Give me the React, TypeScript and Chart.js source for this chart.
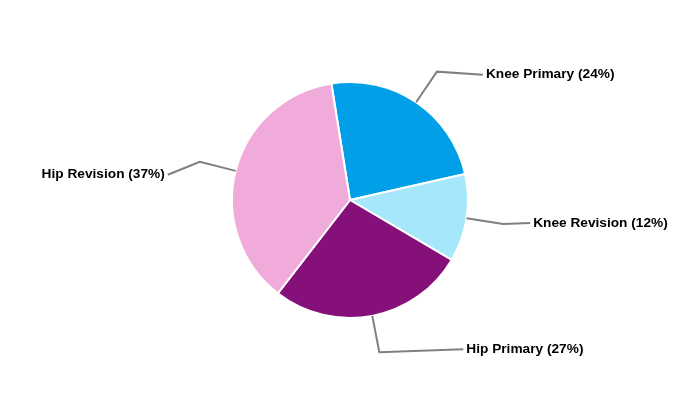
import React, { useEffect, useRef } from "react";
import { Chart, registerables } from "chart.js";

Chart.register(...registerables);

const categories = ["Knee Primary", "Knee Revision", "Hip Primary", "Hip Revision"];
const values = [24, 12, 27, 37];
const colors = ["#009FE8", "#A6E7FC", "#861079", "#F1ABDA"];
// label leader end offsets from the elbow (dx, dy)
const labelDx = [46, 27, 84, -32];
const labelDy = [3, -1, -3, 13];

const leaderPlugin = {
  id: "leaders",
  afterDatasetsDraw(chart: any) {
    const ctx = chart.ctx;
    const meta = chart.getDatasetMeta(0);
    ctx.save();
    meta.data.forEach((arc: any, i: number) => {
      const { x, y, startAngle, endAngle, outerRadius } = arc.getProps(
        ["x", "y", "startAngle", "endAngle", "outerRadius"],
        true
      );
      const mid = (startAngle + endAngle) / 2;
      const c = Math.cos(mid);
      const s = Math.sin(mid);
      const x0 = x + outerRadius * c;
      const y0 = y + outerRadius * s;
      const x1 = x + (outerRadius + 37) * c;
      const y1 = y + (outerRadius + 37) * s;
      const x2 = x1 + labelDx[i];
      const y2 = y1 + labelDy[i];
      ctx.strokeStyle = "#808080";
      ctx.lineWidth = 2;
      ctx.beginPath();
      ctx.moveTo(x0, y0);
      ctx.lineTo(x1, y1);
      ctx.lineTo(x2, y2);
      ctx.stroke();
      const right = labelDx[i] > 0;
      ctx.fillStyle = "#000000";
      ctx.font = "bold 13.7px 'Liberation Sans', Arial, sans-serif";
      ctx.textBaseline = "middle";
      ctx.textAlign = right ? "left" : "right";
      const total = values.reduce((a, b) => a + b, 0);
      const pct = Math.round((values[i] / total) * 100);
      ctx.fillText(`${categories[i]} (${pct}%)`, right ? x2 + 3 : x2 - 3, y2);
    });
    ctx.restore();
  },
};

export default function App() {
  const ref = useRef<HTMLCanvasElement>(null);
  useEffect(() => {
    if (!ref.current) return;
    const chart = new Chart(ref.current, {
      type: "pie",
      data: {
        labels: categories,
        datasets: [
          {
            data: values,
            backgroundColor: colors,
            borderColor: "#ffffff",
            borderWidth: 2,
            radius: 118,
          },
        ],
      },
      options: {
        responsive: true,
        maintainAspectRatio: false,
        animation: false,
        rotation: -9.1,
        plugins: {
          legend: { display: false },
          tooltip: { enabled: false },
        },
      },
      plugins: [leaderPlugin],
    });
    return () => chart.destroy();
  }, []);
  return (
    <div style={{ position: "fixed", left: 0, top: 0, width: 700, height: 400, background: "#fff" }}>
      <canvas ref={ref} />
    </div>
  );
}
